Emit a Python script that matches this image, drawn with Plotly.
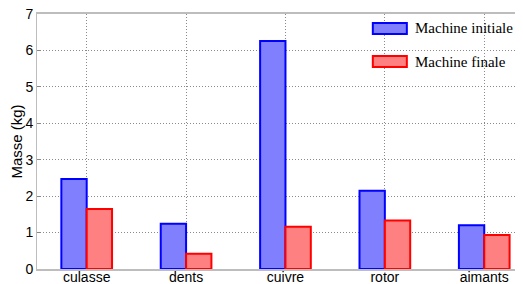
import plotly.graph_objects as go

categories = ["culasse", "dents", "cuivre", "rotor", "aimants"]
initiale = [2.47, 1.24, 6.26, 2.15, 1.20]
finale = [1.65, 0.42, 1.16, 1.33, 0.93]
series_names = ["Machine initiale", "Machine finale"]
y_ticks = [0, 1, 2, 3, 4, 5, 6, 7]

blue_fill = "#8080ff"
blue_line = "#0000ff"
red_fill = "#ff8080"
red_line = "#ff0000"

fig = go.Figure()
fig.add_trace(go.Bar(x=categories, y=initiale, name=series_names[0],
                     marker=dict(color=blue_fill, line=dict(color=blue_line, width=2)),
                     showlegend=False))
fig.add_trace(go.Bar(x=categories, y=finale, name=series_names[1],
                     marker=dict(color=red_fill, line=dict(color=red_line, width=2)),
                     showlegend=False))

grid = dict(showgrid=True, gridcolor="#8a8a8a", griddash="1px,2px", gridwidth=1)

# page body has an 8px margin: figure is sized/offset to compensate
fig.update_layout(
    width=515, height=276,
    margin=dict(l=29, r=0, t=6, b=15, autoexpand=False),
    paper_bgcolor="white", plot_bgcolor="white",
    barmode="group", bargap=0.49, bargroupgap=0,
    font=dict(family="Liberation Sans, Arial, sans-serif", size=14, color="black"),
    xaxis=dict(type="category", range=[-0.5, 4.39], **grid,
               showline=True, linecolor="#bdbdbd", linewidth=2, mirror=True,
               ticks="", tickfont=dict(size=14), ticklabelstandoff=-6,
               automargin=False),
    yaxis=dict(range=[0, 7], tickvals=y_ticks, **grid, zeroline=False,
               showline=True, linecolor="#bdbdbd", linewidth=1,
               ticks="inside", ticklen=4, tickcolor="#888",
               ticklabeloverflow="allow",
               title=dict(text="Masse (kg)", font=dict(size=15), standoff=4),
               tickfont=dict(size=14), automargin=False),
)

# Legend drawn manually (wide rectangles like the reference)
leg_items = [(series_names[0], blue_fill, blue_line, 0.965, 0.922),
             (series_names[1], red_fill, red_line, 0.835, 0.792)]
for name, fill, line, y1, y0 in leg_items:
    fig.add_shape(type="rect", xref="paper", yref="paper",
                  x0=0.691, x1=0.761, y0=y0, y1=y1,
                  fillcolor=fill, line=dict(color=line, width=2))
    fig.add_annotation(xref="paper", yref="paper", x=0.776, y=(y0 + y1) / 2,
                       text=name, showarrow=False, xanchor="left", yanchor="middle",
                       borderpad=0,
                       font=dict(family="Liberation Serif, Times New Roman, serif", size=15))

fig.write_html("out.html")
